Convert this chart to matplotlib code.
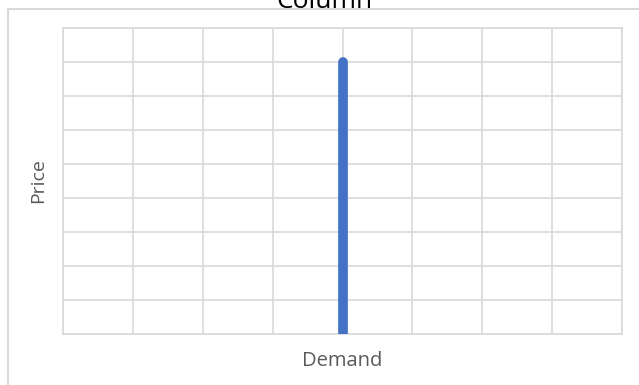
import matplotlib.pyplot as plt
from matplotlib.lines import Line2D

# perfectly inelastic demand: one quantity at every price
demand = [40, 40]
price = [0, 80]
x_ticks = [0, 10, 20, 30, 40, 50, 60, 70, 80]
y_ticks = [0, 10, 20, 30, 40, 50, 60, 70, 80, 90]

W, H = 639, 385
fig = plt.figure(figsize=(W / 100, H / 100), dpi=100)
plt.rcParams['font.family'] = ['Open Sans', 'DejaVu Sans']

grey = '#D9D9D9'
text_grey = '#595959'

# chart area frame (left and top edges only)
fig.add_artist(Line2D([8 / W, 8 / W], [0, 1 - 9 / H], transform=fig.transFigure, color=grey, lw=1.5))
fig.add_artist(Line2D([8 / W, 1], [1 - 9 / H, 1 - 9 / H], transform=fig.transFigure, color=grey, lw=1.5))

fig.text(324 / W, 1 - 8 / H, "Column", ha='center', va='baseline', fontsize=19, color='black')

ax = fig.add_axes([63 / W, (H - 334) / H, (622 - 63) / W, (334 - 28) / H])
ax.plot(demand, price, color='#4472C4', lw=7, solid_capstyle='round', zorder=3)

ax.set_xlim(x_ticks[0], x_ticks[-1])
ax.set_ylim(y_ticks[0], y_ticks[-1])
ax.set_xticks(x_ticks)
ax.set_yticks(y_ticks)
ax.tick_params(length=0, labelbottom=False, labelleft=False)
ax.grid(True, color=grey, lw=1.2)
ax.set_axisbelow(True)
for s in ax.spines.values():
    s.set_color(grey)
    s.set_linewidth(1.2)

ax.set_xlabel("Demand", fontsize=14.5, color=text_grey, va='center')
ax.xaxis.set_label_coords(0.5, -(361 - 334) / 306)
ax.set_ylabel("Price", fontsize=14, color=text_grey, va='center')
ax.yaxis.set_label_coords(-(63 - 38) / 559, 0.5)

fig.savefig("out.png", dpi=100)
